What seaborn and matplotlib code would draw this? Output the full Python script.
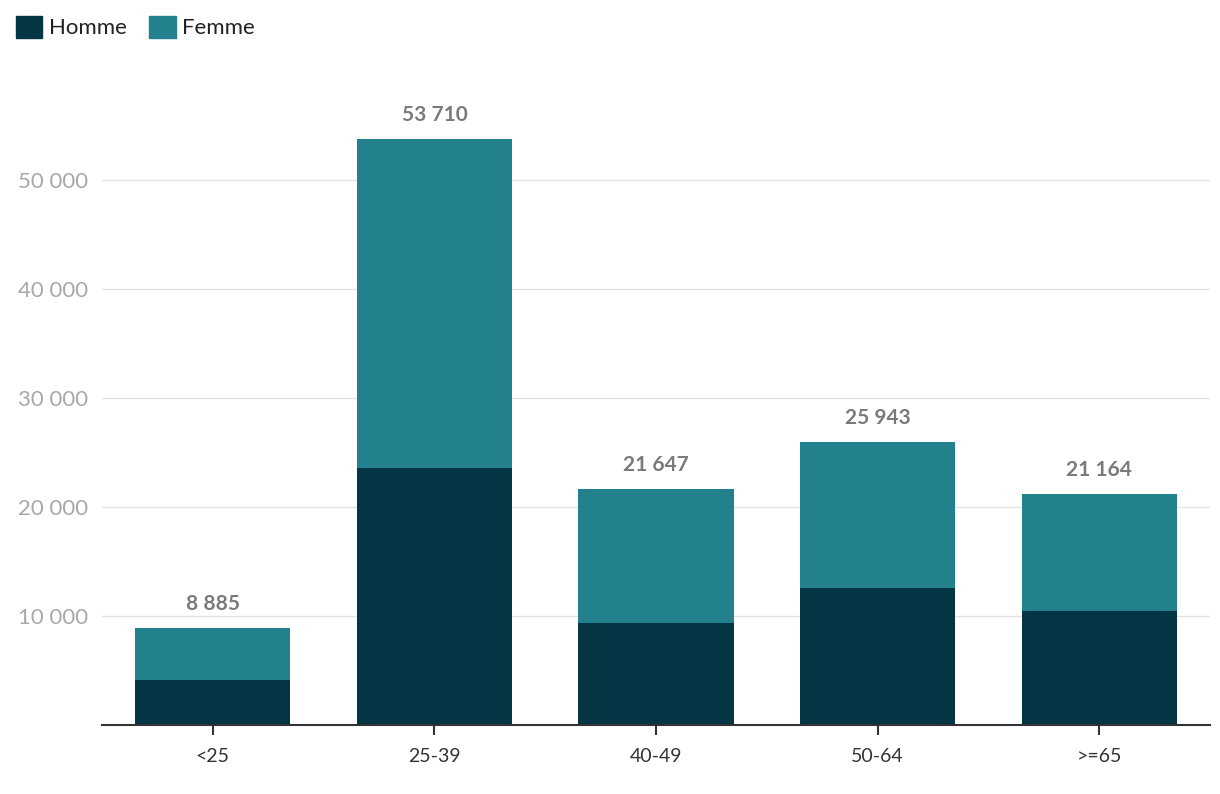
import matplotlib
matplotlib.use("Agg")
import matplotlib.pyplot as plt
import matplotlib.patches as mpatches
import seaborn as sns
import pandas as pd

# data
categories = ["<25", "25-39", "40-49", "50-64", ">=65"]
homme = [4060, 23520, 9360, 12560, 10460]
femme = [4825, 30190, 12287, 13383, 10704]
yticks = [10000, 20000, 30000, 40000, 50000]

HOMME_COLOR = "#033544"
FEMME_COLOR = "#23808d"


def fmt(v):
    return f"{v:,}".replace(",", " ")


sns.set_theme(style="white")
plt.rcParams["font.family"] = ["Lato", "DejaVu Sans"]

df = pd.DataFrame({"age": categories, "homme": homme, "femme": femme})
df["total"] = df["homme"] + df["femme"]

fig = plt.figure(figsize=(12.2, 7.94), dpi=100)
ax = fig.add_axes([0.0836, 0.0875, 0.9082, 0.80])

# stacked: draw totals first (Femme colour), then Homme on top of it
sns.barplot(data=df, x="age", y="total", color=FEMME_COLOR, width=0.70,
            saturation=1, linewidth=0, ax=ax, order=categories)
sns.barplot(data=df, x="age", y="homme", color=HOMME_COLOR, width=0.70,
            saturation=1, linewidth=0, ax=ax, order=categories)

for i, t in enumerate(df["total"]):
    ax.annotate(fmt(t), xy=(i, t), xytext=(0, 10), textcoords="offset points",
                ha="center", va="bottom", fontsize=15, fontweight="bold",
                color="#7a7a7a")

ax.set_xlim(-0.5, len(categories) - 0.5)
ax.set_ylim(0, 58300)
ax.set_yticks(yticks)
ax.set_yticklabels([fmt(v) for v in yticks])
ax.yaxis.grid(True, color="#e3e3e3", linewidth=1)
ax.set_axisbelow(True)
ax.set_xlabel("")
ax.set_ylabel("")

for s in ("top", "right", "left"):
    ax.spines[s].set_visible(False)
ax.spines["bottom"].set_color("#333333")
ax.spines["bottom"].set_linewidth(1.5)

ax.tick_params(axis="y", length=0, labelsize=16, labelcolor="#a8a8a8", pad=10)
ax.tick_params(axis="x", length=7, width=1.5, color="#333333", direction="out",
               bottom=True, labelsize=14, labelcolor="#333333", pad=10)

handles = [mpatches.Patch(color=HOMME_COLOR, label="Homme"),
           mpatches.Patch(color=FEMME_COLOR, label="Femme")]
fig.legend(handles=handles, loc="upper left", bbox_to_anchor=(0.0, 1.0),
           ncol=2, frameon=False, fontsize=16, handlelength=1.2,
           handleheight=1.2, handletextpad=0.3, columnspacing=1.0,
           borderaxespad=0.3, labelcolor="#222222")

fig.savefig("out.png", dpi=100)
plt.close(fig)
